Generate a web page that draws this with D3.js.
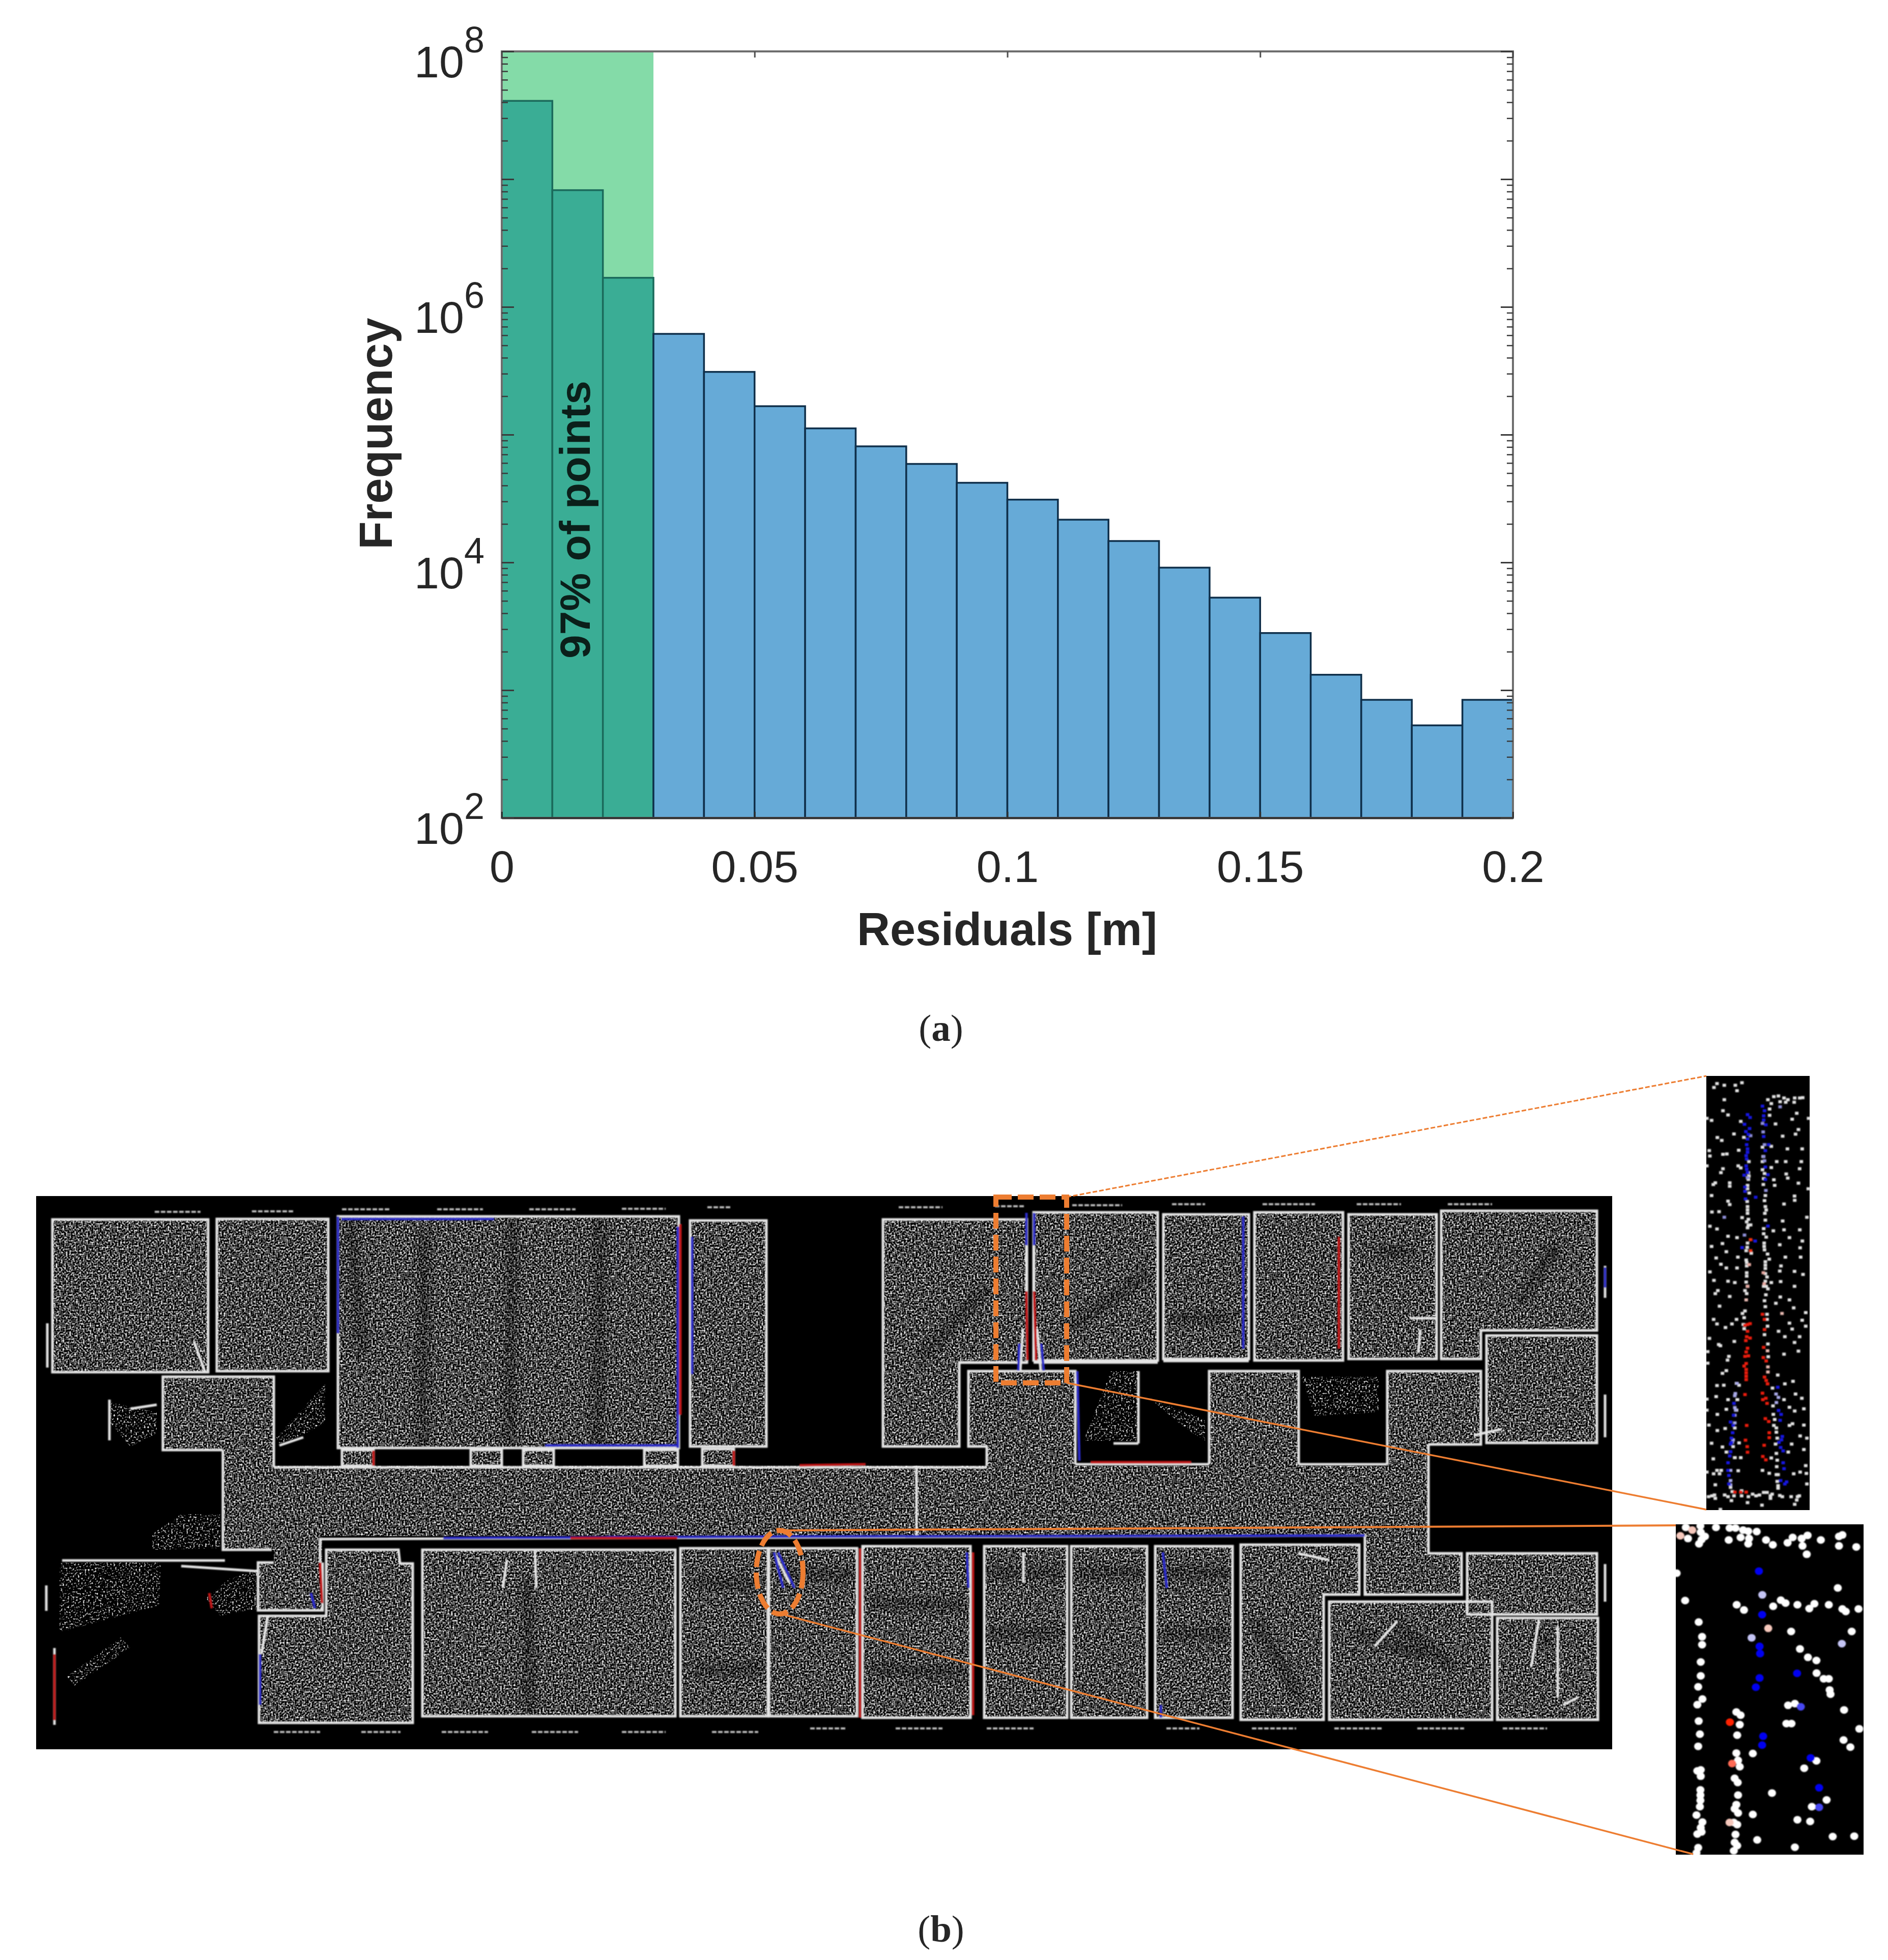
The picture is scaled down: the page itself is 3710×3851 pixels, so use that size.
<!DOCTYPE html>
<html>
<head>
<meta charset="utf-8">
<script src="https://cdn.jsdelivr.net/npm/d3@7"></script>
<style>
body { margin: 0; background: #fff; }
svg { display: block; }
text { font-family: "Liberation Sans", Arial, sans-serif; fill: #262626; }
</style>
</head>
<body>
<div id="chart"></div>
<script>
// histogram, panel (a)
const binEdges = d3.range(0, 20).map(i => i / 100);
const binWidth = 0.01;
const frequency = [4.1e7, 8.2e6, 1.69e6, 6.15e5, 3.1e5, 1.67e5, 1.12e5, 8.1e4, 5.9e4, 4.2e4,
    3.1e4, 2.16e4, 1.47e4, 9.1e3, 5.3e3, 2.8e3, 1.32e3, 840, 530, 840];
const greenLimit = 0.03;
const xTicks = [0, 0.05, 0.1, 0.15, 0.2];
const xTickLabels = ["0", "0.05", "0.1", "0.15", "0.2"];
const yTicks = [1e2, 1e4, 1e6, 1e8];
const yExponents = ["2", "4", "6", "8"];

// floor plan, panel (b), in pixels of the black panel
const rooms = [
    [[32,46],[338,46],[338,346],[32,346]],
    [[355,45],[574,45],[574,344],[355,344]],
    [[593,40],[1263,40],[1263,495],[593,495]],
    [[1285,48],[1435,48],[1435,492],[1285,492]],
    [[601,499],[663,499],[663,530],[601,530]],
    [[854,499],[915,499],[915,530],[854,530]],
    [[957,499],[1017,499],[1017,530],[957,530]],
    [[1195,499],[1261,499],[1261,530],[1195,530]],
    [[1309,497],[1371,497],[1371,530],[1309,530]],
    [[570,695],[712,695],[715,722],[740,722],[740,1035],[438,1035],[438,825],[570,825]],
    [[759,695],[1256,695],[1256,1022],[759,1022]],
    [[1266,692],[1438,692],[1438,1022],[1266,1022]],
    [[1440,692],[1613,692],[1613,1022],[1440,1022]],
    [[1624,688],[1836,688],[1836,1025],[1624,1025]],
    [[1863,688],[2026,688],[2026,1025],[1863,1025]],
    [[2034,688],[2183,688],[2183,1025],[2034,1025]],
    [[2199,688],[2351,688],[2351,1025],[2199,1025]],
    [[2367,685],[2600,685],[2600,783],[2530,783],[2530,1029],[2367,1029]],
    [[2541,797],[2861,797],[2861,1029],[2541,1029]],
    [[2812,702],[3067,702],[3067,822],[2812,822]],
    [[2871,829],[3069,829],[3069,1029],[2871,1029]],
    [[1664,46],[1947,46],[1947,327],[1814,327],[1814,492],[1664,492]],
    [[1960,32],[2204,32],[2204,323],[1960,323]],
    [[2215,36],[2383,36],[2383,320],[2215,320]],
    [[2394,32],[2568,32],[2568,323],[2394,323]],
    [[2579,36],[2752,36],[2752,320],[2579,320]],
    [[2761,29],[3067,29],[3067,264],[2839,264],[2839,320],[2761,320]],
    [[2850,274],[3067,274],[3067,485],[2850,485]]
];
// scanned floor open to the corridor, walls are listed apart
const openAreas = [
    [[249,355],[467,355],[467,530],[367,530],[367,499],[249,499]],
    [[367,530],[2736,530],[2736,668],[367,668]],
    [[367,668],[467,668],[467,695],[367,695]],
    [[467,668],[562,668],[562,720],[467,720]],
    [[436,720],[563,720],[563,814],[436,814]],
    [[1832,344],[2042,344],[2042,530],[1868,530],[1868,492],[1832,492]],
    [[2305,344],[2481,344],[2481,530],[2305,530]],
    [[2655,344],[2839,344],[2839,488],[2736,488],[2736,530],[2655,530]],
    [[2611,668],[2736,668],[2736,702],[2801,702],[2801,783],[2611,783]]
];
const partialScans = [
    [[144,404],[237,425],[237,467],[185,492],[146,446]],
    [[472,474],[568,369],[568,446],[481,492]],
    [[46,720],[245,720],[242,804],[46,857]],
    [[333,790],[381,751],[434,734],[434,811],[362,825]],
    [[60,944],[166,867],[185,888],[75,962]],
    [[228,664],[285,625],[362,625],[362,692],[228,695]],
    [[2058,481],[2112,344],[2166,344],[2166,481]],
    [[2188,397],[2297,439],[2297,481],[2253,453]],
    [[2486,355],[2638,355],[2638,425],[2513,432]]
];
const shadowLines = [
    [[1108,45],[1104,490]], [[936,45],[930,490]], [[763,80],[758,490]], [[618,60],[640,300]],
    [[965,760],[970,1020]],
    [[1743,313],[1863,187]], [[2036,257],[2177,158]], [[2240,240],[2340,240]],
    [[2640,110],[2700,110]], [[2920,200],[2980,110]], [[2670,840],[2780,920]],
    [[2600,860],[2720,900]], [[1480,741],[1600,745]],
    [[1650,800],[1820,805]], [[1650,930],[1820,935]], [[1880,741],[2010,741]],
    [[2050,741],[2170,741]], [[2220,741],[2340,741]], [[1880,860],[2010,860]],
    [[2220,860],[2340,860]], [[1300,760],[1420,760]], [[1300,930],[1420,930]],
    [[2400,840],[2480,980]], [[2960,874],[2975,874]], [[2980,109],[2985,109]]
];
const extraWalls = [
    [[1730,530],[1730,667]],
    [[367,499],[249,499],[249,355],[467,355],[467,533]],
    [[467,533],[1868,533]], [[2042,527],[2305,527]], [[2481,527],[2655,527]],
    [[1868,530],[1868,492],[1832,492],[1832,344],[2042,344],[2042,527]],
    [[2305,527],[2305,344],[2481,344],[2481,527]],
    [[2736,488],[2839,488],[2839,344],[2655,344],[2655,527]],
    [[558,720],[558,674],[2611,667],[2611,783],[2801,783],[2801,702],[2736,702],[2736,488]],
    [[467,720],[436,720],[436,814],[563,814],[563,720]],
    [[367,499],[367,695],[463,695]],
    [[2166,344],[2166,486]], [[2117,486],[2166,486]],
    [[1814,327],[1947,327]], [[1960,327],[2204,327]],
    [[2215,324],[2383,324]],
    [[310,285],[332,346]], [[478,490],[525,474]],
    [[2752,240],[2700,240]], [[2720,262],[2716,308]], [[2825,470],[2880,458]],
    [[2630,885],[2675,835]], [[2953,832],[2938,925]], [[2990,845],[2990,985]],
    [[3000,1000],[3030,985]], [[2480,702],[2540,715]], [[1940,700],[1940,760]],
    [[925,715],[917,770]], [[980,695],[983,770]], [[455,825],[443,900]],
    [[285,727],[434,737]], [[51,716],[371,716]], [[20,765],[20,815]], [[36,888],[36,1039]],
    [[22,250],[22,337]], [[3083,137],[3083,200]], [[3083,390],[3083,474]], [[3083,723],[3083,797]],
    [[1939,260],[1934,343]], [[1967,260],[1974,343]], [[1946,97],[1946,187]], [[1961,97],[1961,187]],
    [[1450,700],[1480,760]], [[144,400],[144,480]], [[185,418],[237,410]]
];
const blueWalls = [
    [[593,40],[593,270]], [[1261,60],[1261,495]], [[600,45],[900,45]], [[1000,490],[1261,490]],
    [[1289,80],[1289,350]], [[1946,33],[1946,97]], [[1961,33],[1961,97]],
    [[1932,290],[1930,343]], [[1975,290],[1980,343]], [[2046,344],[2050,520]],
    [[800,672],[1500,669]], [[1500,669],[2611,667]], [[1450,700],[1468,770]], [[1458,700],[1490,770]],
    [[2214,700],[2222,770]], [[2372,40],[2372,300]], [[1829,700],[1832,770]], [[2210,1000],[2210,1025]],
    [[440,900],[440,1000]], [[540,780],[548,810]], [[1120,670],[1230,670]], [[3083,140],[3083,180]]
];
const redWalls = [
    [[1266,55],[1266,430]], [[1619,692],[1619,1025]], [[1841,700],[1841,1020]],
    [[1946,187],[1948,323]], [[1961,187],[1965,323]], [[1500,529],[1630,527]],
    [[2072,523],[2270,523]], [[1050,672],[1260,672]], [[340,780],[345,810]],
    [[558,720],[562,800]], [[36,900],[36,1030]], [[663,500],[663,530]], [[1371,500],[1371,530]],
    [[2560,80],[2560,300]]
];
const outerScans = [
    [233,323,31],[424,505,30],[601,697,26],[788,878,26],[969,1060,26],[1151,1237,25],[1319,1366,22],
    [1695,1781,22],[1884,1944,20],[2036,2134,18],[2232,2297,16],[2410,2513,16],[2595,2682,16],[2774,2861,16],
    [467,558,1053],[639,716,1053],[797,888,1053],[974,1065,1053],[1151,1237,1053],[1328,1419,1053],
    [1521,1592,1046],[1689,1781,1046],[1868,1960,1046],[2221,2286,1046],[2389,2476,1046],[2551,2644,1046],
    [2714,2806,1046],[2882,2969,1046]
];

const topWhite = [[60,45],[42,68],[103,55],[168,55],[207,40],[178,87],[103,140],[95,205],[125,230],[28,262],[0,250],[200,268],[160,342],[62,363],[88,380],[218,362],[14,440],[18,472],[95,462],[118,460],[188,438],[0,530],[95,547],[83,570],[185,530],[200,542],[50,630],[38,640],[135,630],[135,650],[28,705],[125,738],[135,758],[30,802],[72,800],[208,835],[18,886],[60,902],[125,945],[178,953],[92,988],[28,1005],[115,1036],[55,1073],[183,1068],[83,1110],[115,1132],[178,1132],[18,1155],[42,1205],[125,1210],[165,1218],[65,1265],
    [360,140],[380,163],[395,122],[422,118],[455,130],[478,140],[465,155],[518,130],[515,155],[548,130],[565,128],[432,152],[370,195],[370,232],[405,283],[530,220],[503,255],[600,250],[540,316],[523,343],[447,355],[380,415],[475,430],[562,430],[412,505],[465,505],[557,505],[380,540],[547,547],[468,578],[477,602],[395,612],[400,645],[540,632],[598,665],[517,708],[518,733],[455,755],[590,833],[447,855],[392,913],[455,907],[548,907],[487,953],[563,973],[430,995],[550,1013],[463,1068],[553,1068],[437,1120],[430,1150],[517,1152],[567,1170],[435,1212],[517,1240],[380,1218],
    [248,505],[245,570],[248,590],[245,610],[240,645],[240,665],[250,690],[238,740],[240,770],[240,790],[240,810],[245,845],[235,860],[245,880],[258,878],[240,895],[240,985],[238,1010],[232,1030],[262,1045],[232,1085],[235,1100],[235,1120],[235,1160],[235,1180],[232,1215],[240,1240],[225,1265],
    [328,420],[332,475],[328,505],[328,553],[340,575],[335,605],[333,640],[345,705],[340,735],[345,770],[350,790],[342,810],[345,850],[335,900],[335,930],[350,950],[338,985],[338,1005],[340,1025],[358,1050],[368,1080],[345,1095],[345,1115],[345,1135],[345,1165],[355,1185],[345,1210],[350,1240],[360,1255],[335,1240]];
const topBlue = [[240,228],[222,285],[255,245],[252,310],[230,328],[245,345],[240,372],[235,405],[240,430],[240,450],[232,470],[235,490],[232,530],[235,550],[220,585],[225,655],[225,680],[288,715],[228,725],[240,570],
    [328,178],[340,205],[335,235],[335,260],[348,288],[335,357],[365,405],[345,440],[345,537],[360,582],[345,610],[360,885],[285,973],[208,1012]];
const topPaleBlue = [[258,352],[240,600],[328,280],[332,330],[340,405],[335,475],[340,500],[348,675],[222,938],[103,833],[432,182]];
const topRed = [[258,965],[258,1030]];
const topPink = [[250,1112],[333,1160],[338,1225],[240,1240]];

// lower half of the same inset (600 x 1284)
const lowWhite = [[50,8],[135,25],[75,82],[40,160],[60,187],[148,187],[110,208],[175,160],[15,272],[162,290],[70,308],[80,315],[5,350],[130,378],[122,400],[5,418],[115,462],[92,478],[60,550],[100,548],[175,537],[190,548],[55,615],[125,633],[180,633],[0,630],[115,690],[62,720],[0,695],[12,783],[108,803],[62,815],[190,888],[28,890],[92,912],[115,942],[200,975],[165,975],[38,982],[50,1135],[60,1050],[85,1050],[40,1070],[75,1070],[185,1052],[0,1060],[240,1240],[145,1228],[325,1255],[80,1280],
    [10,1205],[30,1200],[45,1195],[50,1215],[105,1195],[125,1205],[160,1200],[205,1170],[205,1200],[245,1205],[270,1190],[290,1200],[310,1195],[335,1180],[355,1180],[375,1200],[385,1190],[430,1198],[445,1205],[497,1205],[535,1205],[545,1200],[530,1225],[518,1250],[375,1215],
    [433,28],[487,45],[407,65],[512,92],[583,120],[562,165],[487,182],[583,200],[503,217],[423,230],[460,262],[547,262],[517,296],[540,347],[455,365],[418,488],[508,525],[460,540],[387,565],[523,600],[560,625],[455,633],[487,678],[518,700],[572,687],[505,775],[487,785],[572,783],[550,847],[590,860],[500,895],[572,927],[480,942],[380,977],[583,1022],[550,1060],[512,1070],[587,1068],[328,1050],[368,1067],[590,1130],
    [180,633],[175,695],[165,800],[155,910],[165,975],[140,1150],[150,1175],
    [390,670],[392,720],[400,750],[395,785],[410,800],[410,825],[415,860],[405,895],[410,950],[415,990],[412,1028],[410,1075],[420,1075],[415,1115],[420,1140],[420,1155],
    [225,110],[210,125],[220,150],[215,190],[220,215],[348,15],[340,50],[345,85],[355,130],[355,160],[358,200],[340,250],[360,305],[362,380],[235,8]];
const lowBlue = [[160,655],[158,725],[140,765],[155,785],[152,828],[145,860],[145,885],[140,895],[140,940],[135,965],[125,1005],[125,1050],[130,1080],[130,1130],[418,560],[423,697],[438,720],[432,755],[445,850],[440,870],[425,885],[435,915],[450,935],[450,1005],[455,1040],[435,1110],[460,1130],[470,1118]];
const lowPaleBlue = [[168,597],[165,610],[178,537],[165,680],[170,695],[165,725],[165,770],[155,870],[150,885],[140,1050],[140,1110],[140,1135],[408,600],[422,620],[410,650]];
const lowRed = [[240,190],[255,185],[225,195],[240,230],[235,262],[255,270],[230,285],[240,330],[232,352],[225,378],[245,375],[232,420],[220,435],[232,455],[232,475],[232,495],[232,515],[225,603],
    [328,130],[340,160],[340,220],[335,325],[333,385],[350,405],[340,500],[350,520],[358,540],[328,595],[330,633],[348,625],[355,655],[345,745],[365,762],[235,785],[368,828],[368,857],[228,872],[238,910],[240,943],[338,902],[330,968],[348,988],[165,1178],[200,1178],[232,1178]];
const lowPink = [[232,45],[358,345],[360,440],[360,470],[443,125]];

// wider inset, crop of 1095 x 1568
const wideWhite = [[62,12],[148,5],[75,65],[150,35],[175,55],[155,70],[140,90],[240,12],[320,15],[355,15],[400,25],[430,30],[480,32],[315,72],[385,60],[435,65],[430,90],[535,72],[575,95],[662,85],[692,60],[745,65],[780,50],[750,100],[775,140],[858,72],[965,55],[985,48],[965,100],[1067,105],[8,230],[958,300],[58,360],[362,380],[405,405],[577,387],[622,358],[650,372],[720,380],[790,398],[820,375],[905,380],[985,400],[1005,412],[1080,400],[138,462],[683,507],[1040,507],[158,532],[158,570],[150,652],[150,718],[135,770],[735,590],[782,630],[832,645],[833,705],[875,732],[905,732],[910,785],[915,805],[160,828],[130,855],[665,858],[705,850],[995,880],[360,890],[385,905],[138,933],[380,950],[655,945],[685,945],[145,995],[365,1000],[1085,970],[992,1023],[1032,1057],[135,1053],[457,1087],[360,1085],[370,1120],[380,1150],[832,1122],[760,1157],[150,1165],[130,1170],[150,1195],[350,1205],[368,1225],[148,1260],[148,1285],[370,1285],[570,1275],[148,1310],[892,1308],[805,1340],[145,1340],[360,1330],[350,1350],[370,1370],[125,1380],[457,1377],[720,1402],[795,1410],[160,1413],[345,1415],[365,1425],[150,1440],[130,1470],[155,1460],[355,1472],[928,1482],[1055,1480],[350,1510],[365,1525],[483,1498],[705,1533],[135,1535],[345,1550],[125,1560]];
const wideBlue = [[493,220],[512,427],[497,578],[500,612],[718,706],[497,728],[475,772],[518,1005],[512,1047],[798,1108],[848,1250]];
const wideMidBlue = [[740,865],[848,1343]];
const widePaleBlue = [[513,333],[450,537],[982,565]];
const wideRed = [[322,938]];
const wideSalmon = [[335,1135]];
const widePink = [[548,492],[30,52],[100,25],[320,1415]];

const svg = d3.select("#chart").append("svg").attr("width", 3710).attr("height", 3851);
const defs = svg.append("defs");

drawHistogram();
drawFloorPlan();
drawInsets();
drawCallouts();

function addText(g, x, y, str, size, weight, family) {
    return g.append("text").attr("x", x).attr("y", y)
        .attr("text-anchor", "middle")
        .attr("font-size", size)
        .attr("font-weight", weight || "normal")
        .style("font-family", family || null)
        .text(str);
}

function drawHistogram() {
    const x = d3.scaleLinear().domain([0, 0.2]).range([986, 2973]);
    const y = d3.scaleLog().domain([1e2, 1e8]).range([1607, 101]);
    const g = svg.append("g");

    g.append("rect")
        .attr("x", x(0)).attr("y", y(1e8))
        .attr("width", x(greenLimit) - x(0))
        .attr("height", y(1e2) - y(1e8))
        .attr("fill", "#84DBA8");

    g.selectAll("rect.bar")
        .data(frequency)
        .enter()
        .append("rect")
        .attr("class", "bar")
        .attr("x", (d, i) => x(binEdges[i]))
        .attr("y", d => y(d))
        .attr("width", x(binWidth) - x(0))
        .attr("height", d => y(1e2) - y(d))
        .attr("fill", (d, i) => binEdges[i] < greenLimit ? "#3AAD95" : "#66AAD7")
        .attr("stroke", (d, i) => binEdges[i] < greenLimit ? "#1B6A5B" : "#0F2F4A")
        .attr("stroke-width", 3.5);

    // minor ticks on the log axes, every 2..9 of each decade
    const minor = [];
    d3.range(2, 8).forEach(e => d3.range(2, 10).forEach(m => minor.push(m * Math.pow(10, e))));
    const allDecades = d3.range(2, 9).map(e => Math.pow(10, e));

    const box = g.append("g").attr("fill", "none");
    box.append("rect")
        .attr("x", x(0)).attr("y", y(1e8))
        .attr("width", x(0.2) - x(0))
        .attr("height", y(1e2) - y(1e8))
        .attr("stroke", "#6e6e6e").attr("stroke-width", 4);

    const xAxis = d3.axisBottom(x).tickValues(xTicks).tickSizeInner(-12).tickSizeOuter(0).tickFormat((d, i) => xTickLabels[i]);
    const xg = g.append("g").attr("transform", `translate(0,${y(1e2)})`).call(xAxis);
    xg.select(".domain").attr("stroke", "#303030").attr("stroke-width", 4);
    xg.selectAll(".tick line").attr("stroke", "#303030").attr("stroke-width", 3);
    xg.selectAll(".tick text").attr("y", 126).attr("dy", 0).attr("font-size", 88)
        .style("font-family", '"Liberation Sans", Arial, sans-serif').attr("fill", "#262626");

    const xTop = d3.axisTop(x).tickValues(xTicks).tickSizeInner(-12).tickSizeOuter(0).tickFormat("");
    const xt = g.append("g").attr("transform", `translate(0,${y(1e8)})`).call(xTop);
    xt.select(".domain").attr("stroke", "none");
    xt.selectAll(".tick line").attr("stroke", "#505050").attr("stroke-width", 3);

    [[x(0), d3.axisLeft(y), -1], [x(0.2), d3.axisRight(y), 1]].forEach(([pos, make, side]) => {
        const major = g.append("g").attr("transform", `translate(${pos},0)`)
            .call(make.tickValues(allDecades).tickSize(-24).tickFormat(""));
        major.select(".domain").attr("stroke", "none");
        major.selectAll(".tick line").attr("stroke", "#3a3a3a").attr("stroke-width", 3);
        const small = g.append("g").attr("transform", `translate(${pos},0)`)
            .call(make.tickValues(minor).tickSize(-12).tickFormat(""));
        small.select(".domain").attr("stroke", "none");
        small.selectAll(".tick line").attr("stroke", "#3a3a3a").attr("stroke-width", 2.5);
    });

    yTicks.forEach((t, i) => {
        const label = g.append("text")
            .attr("x", 952).attr("y", y(t) + 51)
            .attr("text-anchor", "end").attr("font-size", 88);
        label.append("tspan").text("10");
        label.append("tspan").attr("font-size", 72).attr("dy", -49).text(yExponents[i]);
    });

    addText(g, 1979, 1857, "Residuals [m]", 90, "bold");
    addText(g, 0, 0, "Frequency", 90, "bold").attr("transform", "translate(770,852) rotate(-90)");
    addText(g, 0, 0, "97% of points", 84, "bold").style("fill", "#0b1f1a")
        .attr("transform", "translate(1159,1021) rotate(-90)");

    const ser = '"Liberation Serif", "Times New Roman", serif';
    const a = addText(g, 1849, 2045, "", 75, "normal", ser);
    a.append("tspan").text("(");
    a.append("tspan").attr("font-weight", "bold").text("a");
    a.append("tspan").text(")");
    const b = addText(g, 1849, 3815, "", 75, "normal", ser);
    b.append("tspan").text("(");
    b.append("tspan").attr("font-weight", "bold").text("b");
    b.append("tspan").text(")");
}

function drawFloorPlan() {
    const fx = d3.scaleLinear().domain([0, 3097]).range([71, 3168]);
    const fy = d3.scaleLinear().domain([0, 1087]).range([2350, 3437]);
    const line = d3.line().x(d => fx(d[0])).y(d => fy(d[1]));
    const closed = d3.line().x(d => fx(d[0])).y(d => fy(d[1])).curve(d3.curveLinearClosed);

    // speckle of the point cloud
    const speck = defs.append("filter").attr("id", "speck")
        .attr("filterUnits", "userSpaceOnUse")
        .attr("x", 71).attr("y", 2350).attr("width", 3097).attr("height", 1087)
        .attr("color-interpolation-filters", "sRGB");
    speck.append("feTurbulence").attr("type", "fractalNoise")
        .attr("baseFrequency", 0.3).attr("numOctaves", 1).attr("seed", 4);
    speck.append("feColorMatrix").attr("type", "matrix")
        .attr("values", "2.6 0 0 0 -1.02  2.6 0 0 0 -1.02  2.6 0 0 0 -1.02  0 0 0 0 1");
    speck.append("feGaussianBlur").attr("stdDeviation", 0.6);

    const sparse = defs.append("filter").attr("id", "sparse")
        .attr("filterUnits", "userSpaceOnUse")
        .attr("x", 71).attr("y", 2350).attr("width", 3097).attr("height", 1087)
        .attr("color-interpolation-filters", "sRGB");
    sparse.append("feTurbulence").attr("type", "fractalNoise")
        .attr("baseFrequency", 0.3).attr("numOctaves", 1).attr("seed", 9);
    sparse.append("feColorMatrix").attr("type", "matrix")
        .attr("values", "4 0 0 0 -2.1  4 0 0 0 -2.1  4 0 0 0 -2.1  0 0 0 0 1");

    defs.append("filter").attr("id", "soft").append("feGaussianBlur").attr("stdDeviation", 8);
    defs.append("filter").attr("id", "wallBlur").append("feGaussianBlur").attr("stdDeviation", 0.8);

    const floorClip = defs.append("clipPath").attr("id", "floorClip");
    floorClip.selectAll("path").data(rooms.concat(openAreas)).enter().append("path").attr("d", closed);
    const partClip = defs.append("clipPath").attr("id", "partClip");
    partClip.selectAll("path").data(partialScans).enter().append("path").attr("d", closed);

    const g = svg.append("g");
    g.append("rect").attr("x", fx(0)).attr("y", fy(0))
        .attr("width", fx(3097) - fx(0)).attr("height", fy(1087) - fy(0)).attr("fill", "#000");

    g.append("g").attr("clip-path", "url(#partClip)")
        .append("rect").attr("x", fx(0)).attr("y", fy(0))
        .attr("width", fx(3097) - fx(0)).attr("height", fy(1087) - fy(0))
        .attr("filter", "url(#sparse)");

    const floor = g.append("g").attr("clip-path", "url(#floorClip)");
    floor.append("rect").attr("x", fx(0)).attr("y", fy(0))
        .attr("width", fx(3097) - fx(0)).attr("height", fy(1087) - fy(0))
        .attr("filter", "url(#speck)");
    floor.append("g").attr("filter", "url(#soft)")
        .selectAll("path").data(shadowLines).enter().append("path")
        .attr("d", line)
        .attr("fill", "none").attr("stroke", "#000").attr("stroke-opacity", 0.32)
        .attr("stroke-width", 24).attr("stroke-linecap", "round");

    const walls = g.append("g").attr("fill", "none").attr("filter", "url(#wallBlur)");
    walls.selectAll("path.room").data(rooms).enter().append("path")
        .attr("class", "room").attr("d", closed)
        .attr("stroke", "#e4e4e4").attr("stroke-width", 5);
    walls.selectAll("path.extra").data(extraWalls).enter().append("path")
        .attr("class", "extra").attr("d", line)
        .attr("stroke", "#e4e4e4").attr("stroke-width", 5);
    walls.selectAll("path.outer").data(outerScans).enter().append("path")
        .attr("class", "outer")
        .attr("d", d => line([[d[0], d[2]], [d[1], d[2]]]))
        .attr("stroke", "#bdbdbd").attr("stroke-width", 4).attr("stroke-dasharray", "9 3");

    // slot between the two upper rooms
    g.append("rect").attr("x", fx(1948)).attr("y", fy(28))
        .attr("width", fx(1959) - fx(1948)).attr("height", fy(343) - fy(28)).attr("fill", "#000");

    walls.selectAll("path.blue").data(blueWalls).enter().append("path")
        .attr("class", "blue").attr("d", line)
        .attr("stroke", "#2a2ac8").attr("stroke-width", 5);
    walls.selectAll("path.red").data(redWalls).enter().append("path")
        .attr("class", "red").attr("d", line)
        .attr("stroke", "#c01218").attr("stroke-width", 5);
    walls.raise();
}

function drawInsets() {
    const soft = defs.append("filter").attr("id", "dotBlur");
    soft.append("feGaussianBlur").attr("stdDeviation", 0.9);

    // narrow inset, two crops stacked
    const tx = d3.scaleLinear().domain([0, 600]).range([3354, 3554]);
    const ty = d3.scaleLinear().domain([0, 1275]).range([2114, 2539]);
    const ly = d3.scaleLinear().domain([0, 1284]).range([2539, 2967]);

    defs.append("clipPath").attr("id", "clipNarrow").append("rect")
        .attr("x", 3353).attr("y", 2114).attr("width", 203).attr("height", 853);
    defs.append("clipPath").attr("id", "clipWide").append("rect")
        .attr("x", 3293).attr("y", 2995).attr("width", 369).attr("height", 649);

    svg.append("rect").attr("x", 3353).attr("y", 2114).attr("width", 203).attr("height", 853).attr("fill", "#000");
    const n = svg.append("g").attr("clip-path", "url(#clipNarrow)").append("g").attr("filter", "url(#dotBlur)");

    function speckle(points, yScale, color) {
        n.append("g").selectAll("rect").data(points).enter().append("rect")
            .attr("x", d => tx(d[0]) - 3.5)
            .attr("y", d => yScale(d[1]) - 3)
            .attr("width", 7).attr("height", 6)
            .attr("fill", color);
    }
    speckle(topWhite, ty, "#e2e2e2");
    speckle(lowWhite, ly, "#e2e2e2");
    speckle(topPaleBlue, ty, "#8f8fd8");
    speckle(lowPaleBlue, ly, "#a8a8e6");
    speckle(topBlue, ty, "#1212e0");
    speckle(lowBlue, ly, "#1212e0");
    speckle(topPink, ty, "#e6a8a0");
    speckle(lowPink, ly, "#e6b8b0");
    speckle(topRed, ty, "#f03010");
    speckle(lowRed, ly, "#e81a08");

    // wide inset
    const wx = d3.scaleLinear().domain([0, 1095]).range([3292, 3657]);
    const wy = d3.scaleLinear().domain([0, 1568]).range([2996, 3644]);
    svg.append("rect").attr("x", 3293).attr("y", 2995).attr("width", 369).attr("height", 649).attr("fill", "#000");
    const w = svg.append("g").attr("clip-path", "url(#clipWide)").append("g").attr("filter", "url(#dotBlur)");

    function blobs(points, color) {
        w.append("g").selectAll("ellipse").data(points).enter().append("ellipse")
            .attr("cx", d => wx(d[0]))
            .attr("cy", d => wy(d[1]))
            .attr("rx", 8).attr("ry", 7.5)
            .attr("fill", color);
    }
    blobs(wideWhite, "#fff");
    blobs(wideBlue, "#0000f0");
    blobs(wideMidBlue, "#4646f0");
    blobs(widePaleBlue, "#c4c4f4");
    blobs(wideRed, "#ff2000");
    blobs(wideSalmon, "#ff6a55");
    blobs(widePink, "#f6c8bc");
}

function drawCallouts() {
    const orange = "#ED7D31";
    const g = svg.append("g").attr("fill", "none").attr("stroke", orange);

    g.append("rect").attr("x", 1957).attr("y", 2352).attr("width", 139).attr("height", 365)
        .attr("stroke-width", 10).attr("stroke-dasharray", "31 12");
    g.append("ellipse").attr("cx", 1532).attr("cy", 3089).attr("rx", 46).attr("ry", 82)
        .attr("stroke-width", 10).attr("stroke-dasharray", "32 11");

    g.append("line").attr("x1", 2096).attr("y1", 2352).attr("x2", 3353).attr("y2", 2114)
        .attr("stroke-width", 3).attr("stroke-dasharray", "9 4");
    g.append("line").attr("x1", 2096).attr("y1", 2717).attr("x2", 3353).attr("y2", 2966)
        .attr("stroke-width", 3.5);
    g.append("line").attr("x1", 1535).attr("y1", 3007).attr("x2", 3293).attr("y2", 2997)
        .attr("stroke-width", 4);
    g.append("line").attr("x1", 1530).attr("y1", 3170).attr("x2", 3327).attr("y2", 3643)
        .attr("stroke-width", 3.5);
}
</script>
</body>
</html>
